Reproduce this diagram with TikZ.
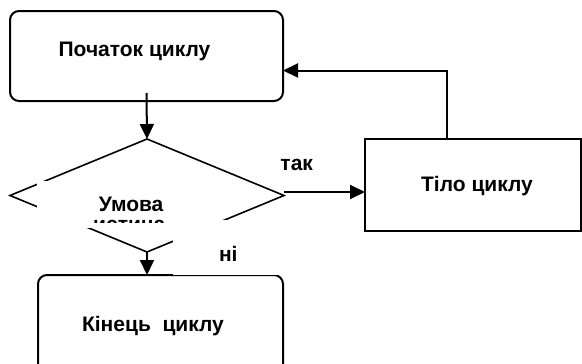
\documentclass[tikz,border=0pt]{standalone}
\usepackage{fontspec}
\setmainfont{Liberation Sans}
\usetikzlibrary{arrows.meta,shapes.geometric}

\tikzset{
  line/.style={line width=2pt},
  flowarrow/.style={line, -{Triangle[length=15pt,width=14pt]}},
  roundbox/.style={draw, line, rounded corners=9pt, inner sep=0pt, outer sep=0pt},
  plainbox/.style={draw, line, inner sep=0pt, outer sep=0pt},
  decision/.style={draw, line width=1.6pt, diamond, inner sep=0pt, outer sep=0pt},
  mask/.style={fill=white, draw=none},
  lbl/.style={font=\bfseries\fontsize{21}{25}\selectfont, inner sep=0pt, anchor=base},
}

\begin{document}
\begin{tikzpicture}[x=1pt, y=-1pt]
  \useasboundingbox (0,0) rectangle (582,364);
  \clip (0,0) rectangle (582,364);

  % shapes
  \node[roundbox, minimum width=273pt, minimum height=90pt] (start) at (146.5,56) {};
  \node[plainbox, minimum width=216pt, minimum height=92pt] (body) at (473,185) {};
  \node[decision, minimum width=274pt, minimum height=113pt] (cond) at (147,195.5) {};
  \node[roundbox, minimum width=245pt, minimum height=115pt] (stop) at (160.5,332.5) {};

  % text frames laid over the decision shape
  \path[mask] (37,181) rectangle (200,228);
  \path[mask] (173,219.5) rectangle (300,275);

  % texts
  \node[lbl] (tstart) at (134.5,56.7) {Початок циклу};
  \node[lbl] (tbody) at (477,191.7) {Тіло циклу};
  \node[lbl] (tcond) at (131.2,211.7) {Умова};
  \begin{scope}
    \clip (37,181) rectangle (200,222);
    \node[lbl, anchor=base west] (ttrue) at (93,231.5) {истина};
  \end{scope}
  \node[lbl] (tstop) at (153,331.7) {Кінець\ \ циклу};
  \node[lbl] (tyes) at (296.7,170) {так};
  \node[lbl] (tno) at (228.3,261.7) {ні};

  % connectors
  \coordinate (bend) at (446.5,70.5);
  \draw[flowarrow] ([yshift=8pt]start.south) -- (cond.north);
  \draw[flowarrow] ([yshift=3.5pt]cond.east) -- ([yshift=3.5pt]cond.east -| body.west);
  \draw[flowarrow] (body.north -| bend) -- (bend) -- (bend -| start.east);
  \draw[flowarrow] (cond.south) -- (cond.south |- stop.north);
\end{tikzpicture}
\end{document}
